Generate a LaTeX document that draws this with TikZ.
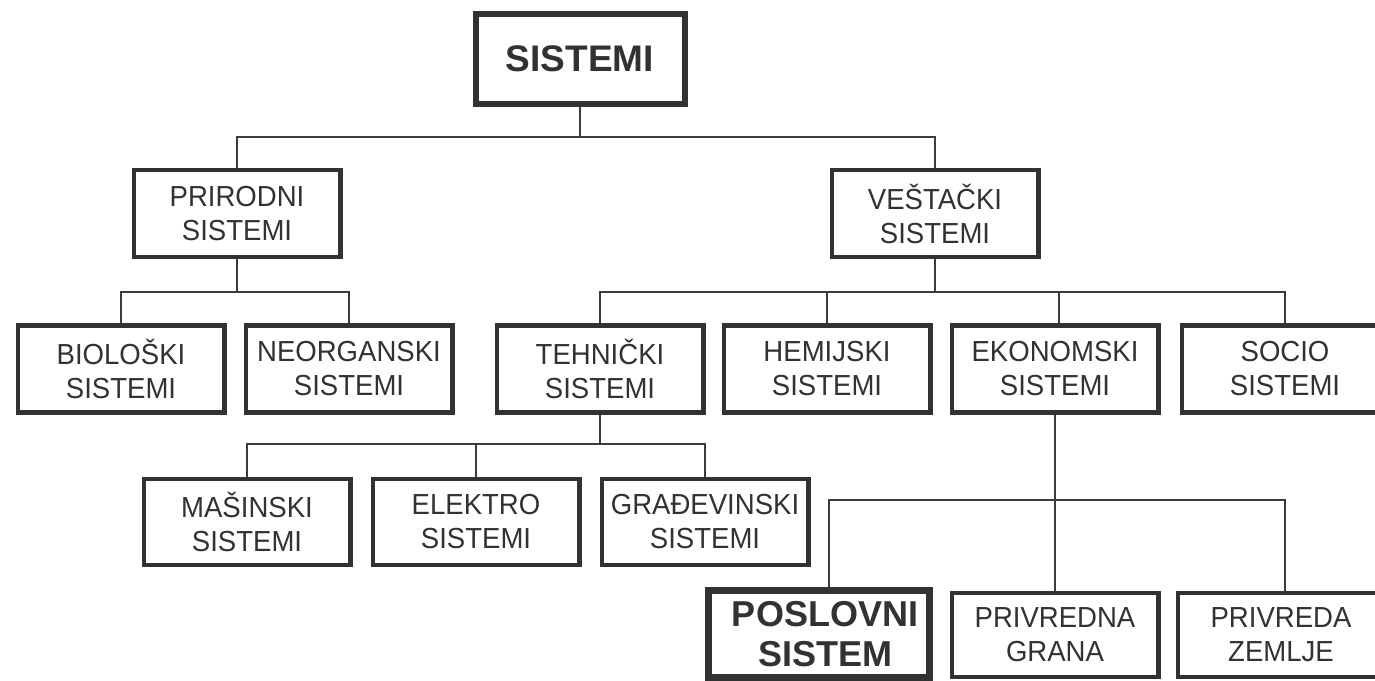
\documentclass[tikz,border=0pt]{standalone}
\usepackage{fontspec}
\setmainfont{Liberation Sans}
\newfontfamily\boxfont[FakeStretch=0.95]{Liberation Sans}
\definecolor{ink}{RGB}{50,50,50}
\definecolor{wire}{RGB}{60,60,60}
\begin{document}
\begin{tikzpicture}[x=1pt,y=-1pt,
  box/.style={draw=ink, line width=4.5pt, minimum width=206.5pt, minimum height=87pt,
    inner sep=0pt, align=center, text=ink,
    font=\boxfont\fontsize{29}{34}\selectfont},
  rootbox/.style={box, line width=6pt, minimum width=209pt, minimum height=90pt,
    font=\fontsize{37}{42}\selectfont\bfseries},
  keybox/.style={box, line width=7pt, minimum width=221pt, minimum height=87pt,
    font=\fontsize{36}{40}\selectfont\bfseries},
  link/.style={draw=wire, line width=2pt}]
\useasboundingbox (0,0) rectangle (1375,680);
\clip (0,0) rectangle (1375,680);
\fill[white] (0,0) rectangle (1375,680);

% level 0
\node[rootbox] (sis) at (580,59) {SISTEMI};

% level 1
\node[box] (prir) at (237,213.5) {PRIRODNI\\SISTEMI};
\node[box] (vest) at (935,213.5) {VEŠTAČKI\\SISTEMI};

% level 2
\node[box] (bio)  at (121,369) {BIOLOŠKI\\SISTEMI};
\node[box] (neo)  at (349,369) {NEORGANSKI\\SISTEMI};
\node[box] (teh)  at (600,369) {TEHNIČKI\\SISTEMI};
\node[box] (hem)  at (827,369) {HEMIJSKI\\SISTEMI};
\node[box] (eko)  at (1055,369) {EKONOMSKI\\SISTEMI};
\node[box] (soc)  at (1285,369) {SOCIO\\SISTEMI};

% level 3, technical branch
\node[box, minimum height=86pt] (mas) at (247,522) {MAŠINSKI\\SISTEMI};
\node[box, minimum height=86pt] (ele) at (476,522) {ELEKTRO\\SISTEMI};
\node[box, minimum height=86pt] (gra) at (705,522) {GRAĐEVINSKI\\SISTEMI};

% level 3, economic branch
\node[keybox] (pos) at (819,634) {\hspace*{12pt}POSLOVNI\\\hspace*{12pt}SISTEM};
\node[box, minimum height=84pt] (prg) at (1055,635) {PRIVREDNA\\GRANA};
\node[box, minimum height=84pt] (prz) at (1281,635) {PRIVREDA\\ZEMLJE};

% connectors
\draw[link] (sis.south) -- (sis.south |- 0,137);
\draw[link] (prir.north) -- (prir.north |- 0,137) -- (vest.north |- 0,137) -- (vest.north);

\draw[link] (prir.south) -- (prir.south |- 0,292);
\draw[link] (bio.north) -- (bio.north |- 0,292) -- (neo.north |- 0,292) -- (neo.north);

\draw[link] (vest.south) -- (vest.south |- 0,292);
\draw[link] (teh.north) -- (teh.north |- 0,292) -- (soc.north |- 0,292) -- (soc.north);
\draw[link] (hem.north) -- (hem.north |- 0,292);
\draw[link] ([xshift=4pt]eko.north) -- ([xshift=4pt]eko.north |- 0,292);

\draw[link] (teh.south) -- (teh.south |- 0,444);
\draw[link] (mas.north) -- (mas.north |- 0,444) -- (gra.north |- 0,444) -- (gra.north);
\draw[link] (ele.north) -- (ele.north |- 0,444);

\draw[link] (eko.south) -- (prg.north);
\draw[link] ([xshift=10pt]pos.north) -- ([xshift=10pt]pos.north |- 0,500)
  -- ([xshift=4pt]prz.north |- 0,500) -- ([xshift=4pt]prz.north);
\end{tikzpicture}
\end{document}
